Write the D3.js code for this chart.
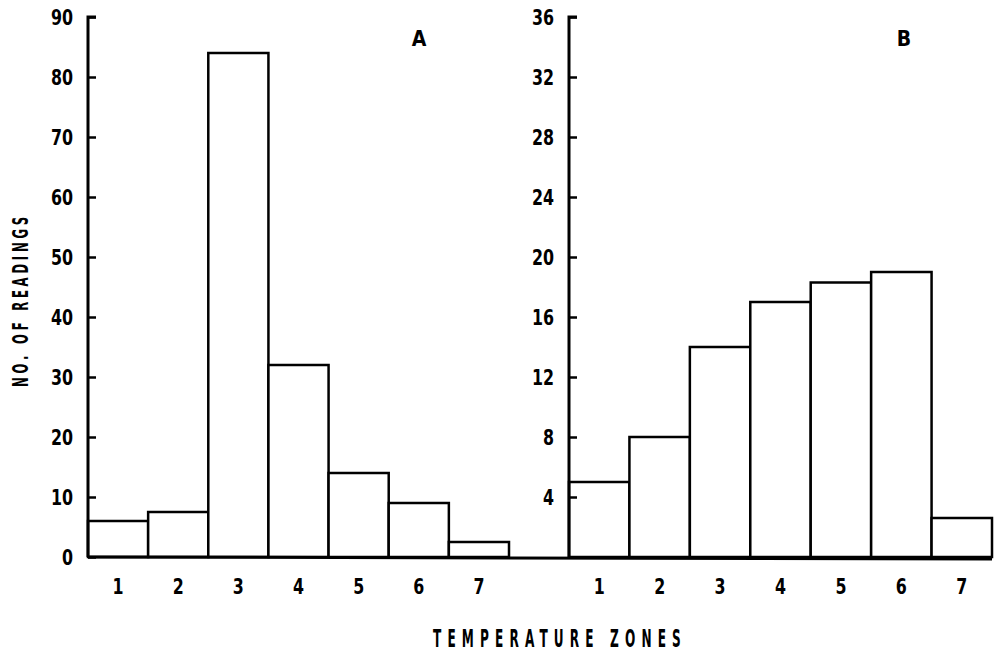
<!DOCTYPE html>
<html>
<head>
<meta charset="utf-8">
<script src="https://cdn.jsdelivr.net/npm/d3@7"></script>
<style>
  body { margin: 0; background: #fff; }
  svg text { font-family: "DejaVu Sans Condensed", "DejaVu Sans", sans-serif; font-weight: bold; fill: #000; }
</style>
</head>
<body>
<svg width="998" height="653"></svg>
<script>
var zones = ["1", "2", "3", "4", "5", "6", "7"];
var countsA = [6, 7.5, 84, 32, 14, 9, 2.5];
var countsB = [5, 8, 14, 17, 18.3, 19, 2.6];
var ticksA = [0, 10, 20, 30, 40, 50, 60, 70, 80, 90];
var ticksB = [4, 8, 12, 16, 20, 24, 28, 32, 36];

var svg = d3.select("svg"),
    top0 = 17, base = 557,
    squeeze = 0.8;   // the original lettering is a narrow face

var xA = d3.scaleBand().domain(zones).range([88, 509]).padding(0),
    yA = d3.scaleLinear().domain([0, 90]).range([base, top0]);
var xB = d3.scaleBand().domain(zones).range([569, 992]).padding(0),
    yB = d3.scaleLinear().domain([0, 36]).range([base, top0]);

function panel(x, y, data, ticks, letter, letterX) {
  var g = svg.append("g");

  g.selectAll(".bar")
    .data(data)
    .enter().append("rect")
      .attr("class", "bar")
      .attr("x", function(d, i) { return x(zones[i]); })
      .attr("y", function(d) { return y(d); })
      .attr("width", x.bandwidth())
      .attr("height", function(d) { return base - y(d); })
      .attr("fill", "#fff")
      .attr("stroke", "#000")
      .attr("stroke-width", 2.5);

  var ax = g.append("g")
      .attr("transform", "translate(" + x.range()[0] + ",0)")
      .call(d3.axisLeft(y).tickValues(ticks).tickSize(-8).tickPadding(15));
  ax.select(".domain").attr("d", "M0," + y(0) + "V" + y.range()[1] + "H8").attr("stroke-width", 3);
  ax.selectAll(".tick line").attr("stroke-width", 2.5);
  ax.selectAll("text")
      .attr("font-size", 22).attr("font-family", null)
      .attr("x", -15 / squeeze)
      .attr("transform", "scale(" + squeeze + ",1)");

  var bx = g.append("g")
      .attr("transform", "translate(0," + base + ")")
      .call(d3.axisBottom(x).tickSize(0).tickPadding(21));
  bx.select(".domain").remove();
  bx.selectAll("text")
      .attr("font-size", 22).attr("font-family", null)
      .attr("transform", "scale(" + squeeze + ",1)");

  g.append("text")
      .attr("x", letterX)
      .attr("y", 46)
      .attr("text-anchor", "middle")
      .attr("font-family", "Liberation Sans, Arial, sans-serif")
      .attr("font-size", 21)
      .text(letter);
}

panel(xA, yA, countsA, ticksA, "A", 419);
panel(xB, yB, countsB, ticksB, "B", 904);

// shared baseline
svg.append("line")
    .attr("x1", xA.range()[0]).attr("x2", xB.range()[1])
    .attr("y1", base).attr("y2", base + 2)
    .attr("stroke", "#000")
    .attr("stroke-width", 3);

svg.append("text")
    .attr("transform", "translate(28,300) rotate(-90) scale(0.62,1)")
    .attr("text-anchor", "middle")
    .attr("font-size", 21)
    .attr("letter-spacing", 6)
    .text("NO. OF READINGS");

svg.append("text")
    .attr("transform", "translate(560,647) scale(0.56,1)")
    .attr("text-anchor", "middle")
    .attr("font-size", 24)
    .attr("letter-spacing", 11)
    .text("TEMPERATURE ZONES");
</script>
</body>
</html>
